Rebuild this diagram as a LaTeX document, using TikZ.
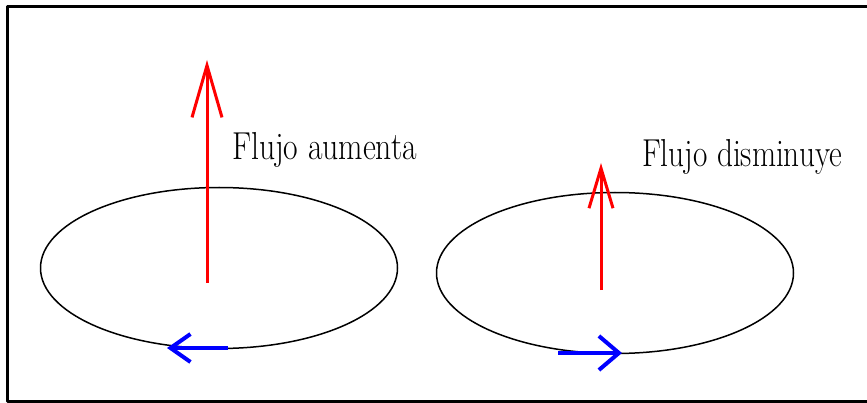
\documentclass[tikz,border=0pt]{standalone}
\usepackage{graphicx}
\usetikzlibrary{arrows.meta,shapes.geometric}
\definecolor{fluxred}{HTML}{FF0000}
\definecolor{curblue}{HTML}{0000FF}
\tikzset{px/.style={x=1pt,y=-1pt,line join=round},
  loop/.style={draw,ellipse,line width=1.5pt,minimum width=357pt,minimum height=161pt,inner sep=0pt},
  lbl/.style={font=\fontsize{39}{40}\selectfont,anchor=base west,inner sep=0pt}}

\begin{document}
\begin{tikzpicture}[px]
  \useasboundingbox (0,0) rectangle (867,403);
  \draw[line width=3pt] (867,7)--(7,7)--(7,401)--(867,401);
  % two loops
  \node[loop] (loopA) at (219,268) {};\node[loop] (loopB) at (615,273) {};
  % flux arrows
  \coordinate (fa0) at (207,283);\coordinate (fa1) at (207,60);
  \draw[fluxred,line width=3pt,-{Straight Barb[length=52pt,width=30pt]}] (fa0)--(fa1);
  \coordinate (fb0) at (601,290);\coordinate (fb1) at (601,163);
  \draw[fluxred,line width=3pt,-{Straight Barb[length=40pt,width=24pt]}] (fb0)--(fb1);
  % induced currents
  \coordinate (ca0) at (228,348);\coordinate (ca1) at (167,348);
  \draw[curblue,line width=4pt,-{Straight Barb[length=20pt,width=28pt]}] (ca0)--(ca1);
  \coordinate (cb0) at (558,353);\coordinate (cb1) at (622,353);
  \draw[curblue,line width=4pt,-{Straight Barb[length=20pt,width=34pt]}] (cb0)--(cb1);
  \node[lbl] (txtA) at (232,160) {\scalebox{.81}[1]{Flujo aumenta}};
  \node[lbl] (txtB) at (642,167) {\scalebox{.8}[1]{Flujo disminuye}};
\end{tikzpicture}
\end{document}
